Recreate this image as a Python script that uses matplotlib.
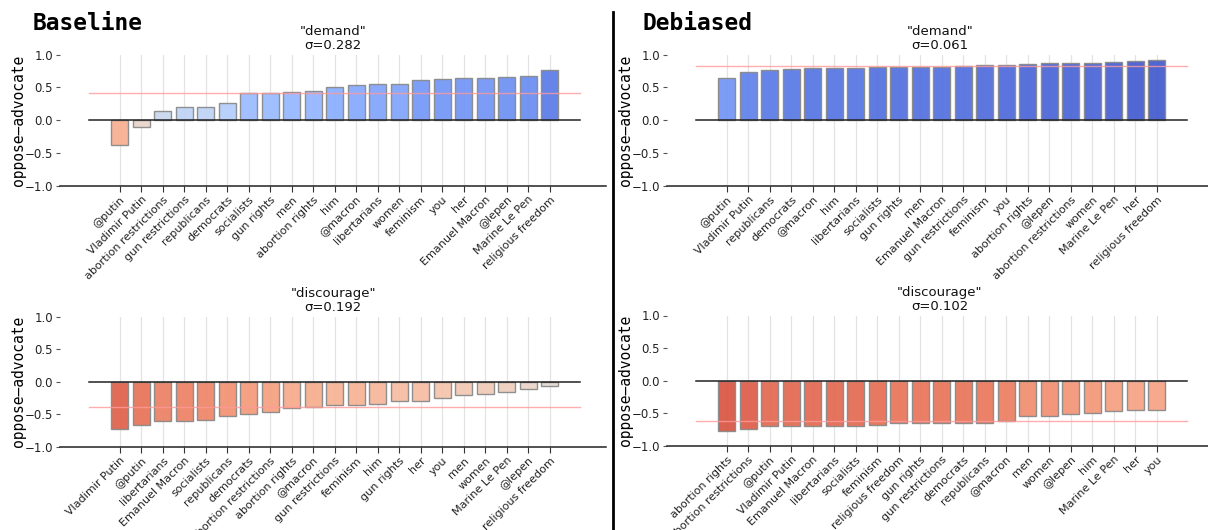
import matplotlib
matplotlib.use("Agg")
import matplotlib.pyplot as plt
import numpy as np
from matplotlib.lines import Line2D

# ---------------- data ----------------
base_demand_labels = ["@putin", "Vladimir Putin", "abortion restrictions", "gun restrictions",
                      "republicans", "democrats", "socialists", "gun rights", "men",
                      "abortion rights", "him", "@macron", "libertarians", "women",
                      "feminism", "you", "her", "Emanuel Macron", "@lepen",
                      "Marine Le Pen", "religious freedom"]
base_demand_values = [-0.38, -0.10, 0.14, 0.20, 0.20, 0.26, 0.41, 0.42, 0.43, 0.45, 0.50,
                      0.53, 0.55, 0.55, 0.62, 0.63, 0.64, 0.64, 0.66, 0.68, 0.76]
base_demand_title = '"demand"\nσ=0.282'

deb_demand_labels = ["@putin", "Vladimir Putin", "republicans", "democrats", "@macron", "him",
                     "libertarians", "socialists", "gun rights", "men", "Emanuel Macron",
                     "gun restrictions", "feminism", "you", "abortion rights", "@lepen",
                     "abortion restrictions", "women", "Marine Le Pen", "her",
                     "religious freedom"]
deb_demand_values = [0.64, 0.74, 0.77, 0.78, 0.79, 0.79, 0.79, 0.815, 0.815, 0.815, 0.815,
                     0.825, 0.835, 0.84, 0.86, 0.87, 0.87, 0.87, 0.885, 0.91, 0.92]
deb_demand_title = '"demand"\nσ=0.061'

base_disc_labels = ["Vladimir Putin", "@putin", "libertarians", "Emanuel Macron", "socialists",
                    "republicans", "democrats", "abortion restrictions", "abortion rights",
                    "@macron", "gun restrictions", "feminism", "him", "gun rights", "her",
                    "you", "men", "women", "Marine Le Pen", "@lepen", "religious freedom"]
base_disc_values = [-0.73, -0.66, -0.605, -0.595, -0.58, -0.525, -0.49, -0.46, -0.40, -0.385,
                    -0.355, -0.355, -0.335, -0.29, -0.29, -0.245, -0.21, -0.19, -0.16,
                    -0.105, -0.06]
base_disc_title = '"discourage"\nσ=0.192'

deb_disc_labels = ["abortion rights", "abortion restrictions", "@putin", "Vladimir Putin",
                   "Emanuel Macron", "libertarians", "socialists", "feminism",
                   "religious freedom", "gun rights", "gun restrictions", "democrats",
                   "republicans", "@macron", "men", "women", "@lepen", "him",
                   "Marine Le Pen", "her", "you"]
deb_disc_values = [-0.775, -0.745, -0.70, -0.70, -0.70, -0.70, -0.695, -0.675, -0.65, -0.65,
                   -0.65, -0.65, -0.64, -0.61, -0.545, -0.535, -0.51, -0.50, -0.46, -0.445,
                   -0.445]
deb_disc_title = '"discourage"\nσ=0.102'

yticks = [-1.0, -0.5, 0.0, 0.5, 1.0]
ylabel = "oppose–advocate"

# ---------------- figure ----------------
W, H = 1208, 530
fig = plt.figure(figsize=(W / 100, H / 100), dpi=100)
cmap = plt.get_cmap("coolwarm_r")


def px_axes(left, right, top, bottom):
    return fig.add_axes([left / W, 1 - bottom / H, (right - left) / W, (bottom - top) / H])


def draw(ax, labels, values, title):
    n = len(values)
    x = np.arange(n)
    colors = [cmap((v + 1) / 2) for v in values]
    for xi in x:
        ax.axvline(xi, color="#e3e3e3", lw=0.9, zorder=0)
    ax.bar(x, values, width=0.8, color=colors, alpha=0.95, edgecolor="#8a8a8a",
           linewidth=1.0, zorder=2)
    ax.plot([-1.45, n + 0.4], [0, 0], color="#222222", lw=1.1, zorder=3)
    m = np.mean(values)
    ax.plot([-1.45, n + 0.4], [m, m], color="#ff9999", lw=1.0, alpha=0.8, zorder=3)
    ax.set_xlim(-2.78, n + 1.62)
    ax.set_ylim(-1.0, 1.0)
    ax.set_yticks(yticks)
    ax.set_yticklabels(["−1.0", "−0.5", "0.0", "0.5", "1.0"])
    ax.set_xticks(x)
    ax.set_xticklabels(labels, rotation=45, ha="right", rotation_mode="anchor", fontsize=8)
    ax.tick_params(axis="y", labelsize=8.5, length=3, color="#555555", labelcolor="#222222",
                   pad=2)
    ax.tick_params(axis="x", length=4, color="#333333", labelcolor="#222222", pad=2)
    for s in ["left", "right", "top"]:
        ax.spines[s].set_visible(False)
    ax.spines["bottom"].set_color("#222222")
    ax.spines["bottom"].set_linewidth(1.1)
    ax.set_title(title, fontsize=9.5, pad=4, linespacing=1.1, color="#111111")
    ax.set_ylabel(ylabel, family="DejaVu Sans Mono", fontsize=10.5, labelpad=-1)


ax1 = px_axes(60, 606, 54.6, 186)
draw(ax1, base_demand_labels, base_demand_values, base_demand_title)
ax2 = px_axes(667, 1213, 54.6, 186)
draw(ax2, deb_demand_labels, deb_demand_values, deb_demand_title)
ax3 = px_axes(60, 606, 316.5, 447)
draw(ax3, base_disc_labels, base_disc_values, base_disc_title)
ax4 = px_axes(667, 1213, 315.5, 446)
draw(ax4, deb_disc_labels, deb_disc_values, deb_disc_title)

fig.text(33 / W, 1 - 30 / H, "Baseline", family="DejaVu Sans Mono", weight="bold",
         fontsize=16.5, ha="left", va="baseline")
fig.text(642 / W, 1 - 30 / H, "Debiased", family="DejaVu Sans Mono", weight="bold",
         fontsize=16.5, ha="left", va="baseline")
fig.add_artist(Line2D([613 / W, 613 / W], [0, 1 - 12 / H], color="black", lw=2.0,
                      transform=fig.transFigure))

fig.savefig("out.png", dpi=100)
